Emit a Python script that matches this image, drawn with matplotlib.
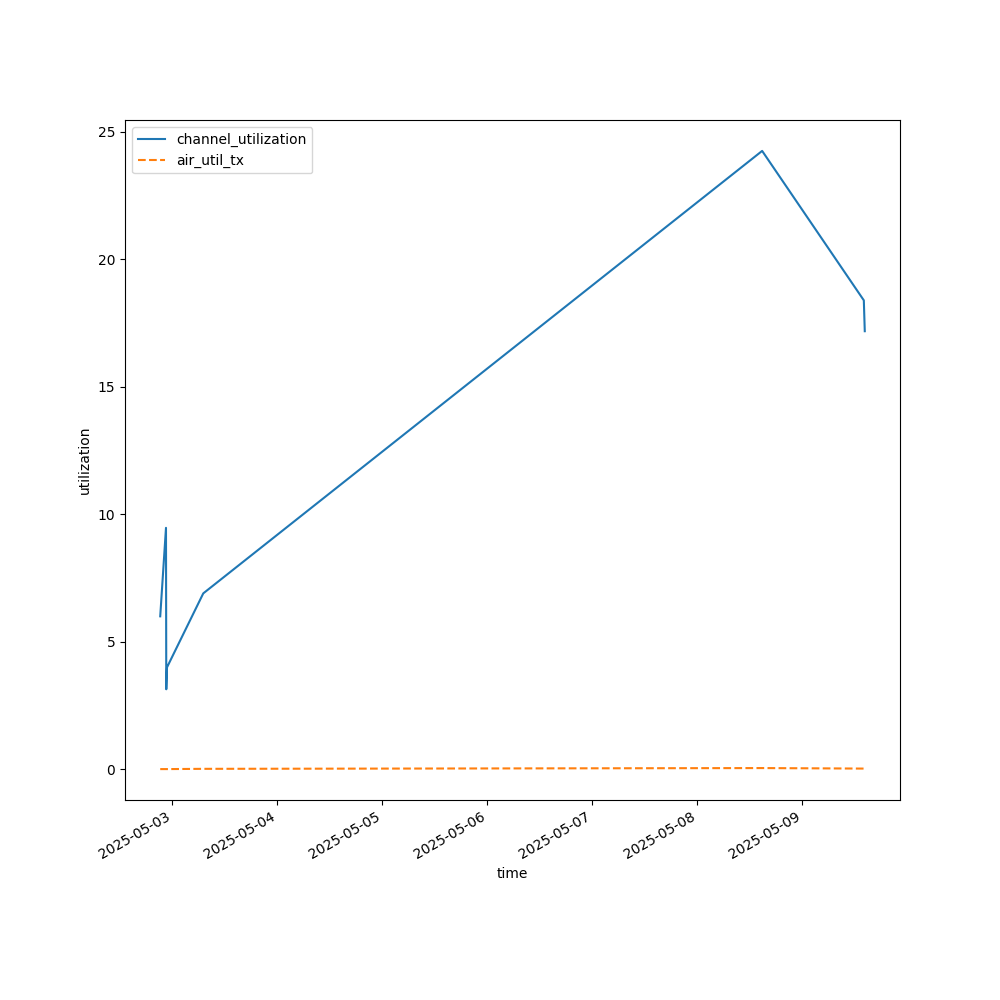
import matplotlib
matplotlib.use("Agg")
import matplotlib.pyplot as plt
import pandas as pd

times = pd.to_datetime([
    "2025-05-02 21:15", "2025-05-02 22:34", "2025-05-02 22:38", "2025-05-02 22:48",
    "2025-05-03 07:05", "2025-05-08 14:47", "2025-05-09 14:01", "2025-05-09 14:14",
])
channel_utilization = [6.0, 9.47, 3.14, 4.0, 6.9, 24.25, 18.39, 17.18]
air_util_tx = [0.01, 0.01, 0.01, 0.01, 0.02, 0.05, 0.03, 0.02]

fig, ax = plt.subplots(figsize=(10, 10), dpi=100)
ax.plot(times, channel_utilization, label="channel_utilization", color="#1f77b4")
ax.plot(times, air_util_tx, label="air_util_tx", color="#ff7f0e", linestyle="--")
ax.set_xlabel("time")
ax.set_ylabel("utilization")
ax.legend(loc="upper left")
fig.autofmt_xdate()
fig.savefig("out.png")
